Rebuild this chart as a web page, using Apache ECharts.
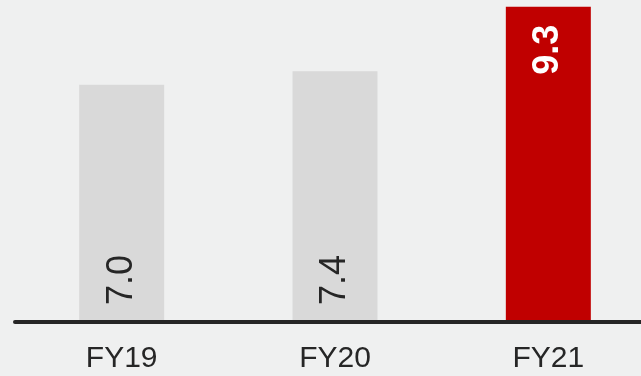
<!DOCTYPE html>
<html>
<head>
<meta charset="utf-8">
<script src="https://cdn.jsdelivr.net/npm/echarts@6/dist/echarts.min.js"></script>
<style>
  html, body { margin: 0; padding: 0; background: #eff0f0; overflow: hidden; }
  /* the axis runs past the right edge of the page */
  #chart { width: 655px; height: 376px; }
</style>
</head>
<body>
<div id="chart"></div>
<script>
// Fiscal years and their values
const categories = ['FY19', 'FY20', 'FY21'];
const values = [7.0, 7.4, 9.3];
const highlightIndex = 2;

const FONT = '"Liberation Sans", Arial, sans-serif';

const chart = echarts.init(document.getElementById('chart'));

const seriesData = values.map((v, i) => {
  const hi = i === highlightIndex;
  return {
    value: v,
    itemStyle: { color: hi ? '#c00000' : '#d9d9d9' },
    label: hi
      ? { position: 'insideTop', align: 'right', distance: 18, color: '#ffffff', fontWeight: 'bold' }
      : { position: 'insideBottom', align: 'left', distance: 17, color: '#262626', fontWeight: 'normal' }
  };
});

chart.setOption({
  backgroundColor: '#eff0f0',
  animation: false,
  grid: { left: 15, right: 0, top: 0, height: 322, containLabel: false },
  xAxis: {
    type: 'category',
    data: categories,
    z: 5,
    axisLine: { lineStyle: { color: '#262626', width: 4 } },
    axisTick: { show: false },
    axisLabel: { color: '#262626', fontSize: 30, fontFamily: FONT, margin: 22 }
  },
  yAxis: {
    type: 'value',
    min: 0,
    max: 9.5,
    show: false,
    splitLine: { show: false }
  },
  series: [{
    type: 'bar',
    data: seriesData,
    barWidth: 85,
    label: {
      show: true,
      rotate: 90,
      verticalAlign: 'middle',
      fontSize: 36,
      fontFamily: FONT,
      formatter: p => p.value.toFixed(1)
    }
  }]
});
</script>
</body>
</html>
